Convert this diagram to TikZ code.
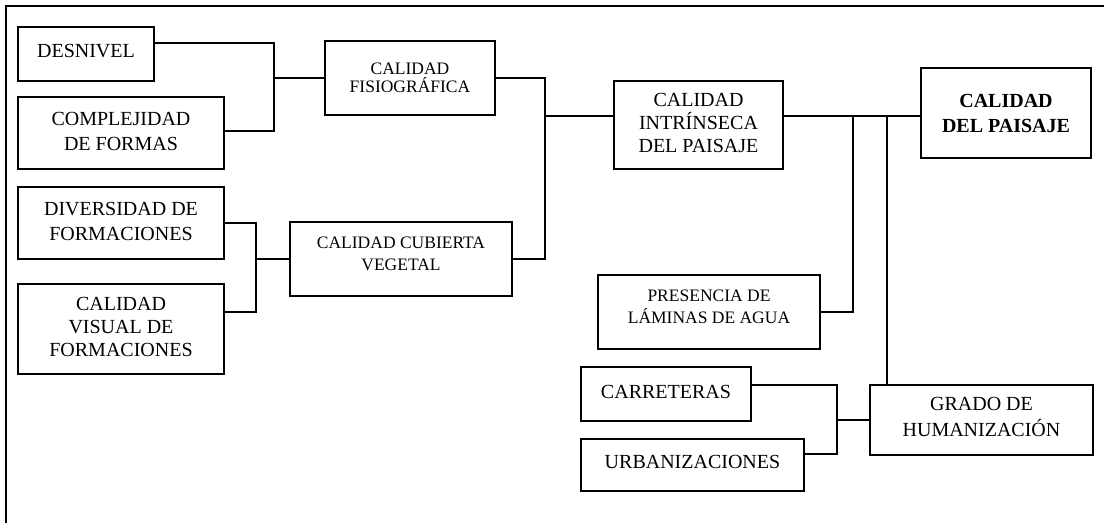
\documentclass[tikz,border=0pt]{standalone}
\usepackage{fontspec}
\setmainfont{Liberation Serif}
\begin{document}
\begin{tikzpicture}[x=1pt,y=-1pt,
  line width=2.3pt,
  box/.style={draw, line width=2.3pt, inner sep=0pt},
  txt/.style={inner sep=0pt, align=center, font=\fontsize{20}{24}\selectfont},
  stxt/.style={txt, font=\fontsize{17.5}{21.5}\selectfont},
  conn/.style={line width=2.3pt}]
\useasboundingbox (0,0) rectangle (1104,523);
\fill[white] (0,0) rectangle (1104,523);
% outer frame (right and bottom sides lie outside the picture)
\draw[line width=2.5pt] (6,523) -- (6,6) -- (1104,6);

% boxes
\node[box, minimum width=136pt, minimum height=54pt] (desn) at (86,54) {};
\node[box, minimum width=206pt, minimum height=72pt] (comp) at (121,133) {};
\node[box, minimum width=206pt, minimum height=72pt] (div) at (121,223) {};
\node[box, minimum width=206pt, minimum height=90pt] (vis) at (121,329) {};
\node[box, minimum width=170pt, minimum height=74pt] (fisio) at (410,78) {};
\node[box, minimum width=222pt, minimum height=74pt] (cub) at (401,259) {};
\node[box, minimum width=169pt, minimum height=88pt] (intr) at (698.5,125) {};
\node[box, minimum width=170pt, minimum height=90pt] (pais) at (1006,113) {};
\node[box, minimum width=222pt, minimum height=74pt] (pres) at (709,312) {};
\node[box, minimum width=170pt, minimum height=54pt] (carr) at (666,394) {};
\node[box, minimum width=223pt, minimum height=52pt] (urb) at (692.5,465) {};
\node[box, minimum width=223pt, minimum height=70pt] (grado) at (981.5,420) {};

% texts
\node[txt] (desnT) at ([yshift=3pt]desn.center) {DESNIVEL};
\node[txt, font=\fontsize{20}{25}\selectfont] (compT) at ([yshift=2pt]comp.center) {COMPLEJIDAD\\DE FORMAS};
\node[txt, font=\fontsize{20}{25}\selectfont] (divT) at ([yshift=1.5pt]div.center) {DIVERSIDAD DE\\FORMACIONES};
\node[txt, font=\fontsize{20}{23.3}\selectfont] (visT) at ([yshift=2pt]vis.center) {CALIDAD\\VISUAL DE\\FORMACIONES};
\node[stxt, font=\fontsize{17.5}{18.5}\selectfont] (fisioT) at (fisio.center) {CALIDAD\\FISIOGRÁFICA};
\node[stxt] (cubT) at ([yshift=5pt]cub.center) {CALIDAD CUBIERTA\\VEGETAL};
\node[txt, font=\fontsize{20}{22.8}\selectfont] (intrT) at ([yshift=2pt]intr.center) {CALIDAD\\INTRÍNSECA\\DEL PAISAJE};
\node[txt, font=\fontsize{20}{25}\selectfont\bfseries] (paisT) at (pais.center) {CALIDAD\\DEL PAISAJE};
\node[stxt] (presT) at ([yshift=5pt]pres.center) {PRESENCIA DE\\LÁMINAS DE AGUA};
\node[txt] (carrT) at ([yshift=2pt]carr.center) {CARRETERAS};
\node[txt] (urbT) at ([yshift=3pt]urb.center) {URBANIZACIONES};
\node[txt, font=\fontsize{20}{25.5}\selectfont] (gradoT) at ([yshift=3pt]grado.center) {GRADO DE\\HUMANIZACIÓN};

% junctions
\coordinate (j1) at (274,78);
\coordinate (j2) at (256,259);
\coordinate (j3) at (545,116);
\coordinate (j4) at (853,116);
\coordinate (j5) at (887,116);
\coordinate (j6) at (837,420);

\draw[conn] ([yshift=11pt]desn.east) -| (j1) |- ([yshift=2pt]comp.east);
\draw[conn] (j1) -- (fisio.west);
\draw[conn] (div.east) -| (j2) |- ([yshift=17pt]vis.east);
\draw[conn] (j2) -- (cub.west);
\draw[conn] (fisio.east) -| (j3) |- (cub.east);
\draw[conn] (j3) -- ([yshift=9pt]intr.west);
\draw[conn] ([yshift=9pt]intr.east) coordinate (m) -- (m -| pais.west);
\draw[conn] (j4) |- (pres.east);
\draw[conn] (j5) -- (j5 |- grado.north);
\draw[conn] ([yshift=9pt]carr.east) -| (j6) |- ([yshift=11pt]urb.east);
\draw[conn] (j6) -- (grado.west);
\end{tikzpicture}
\end{document}
